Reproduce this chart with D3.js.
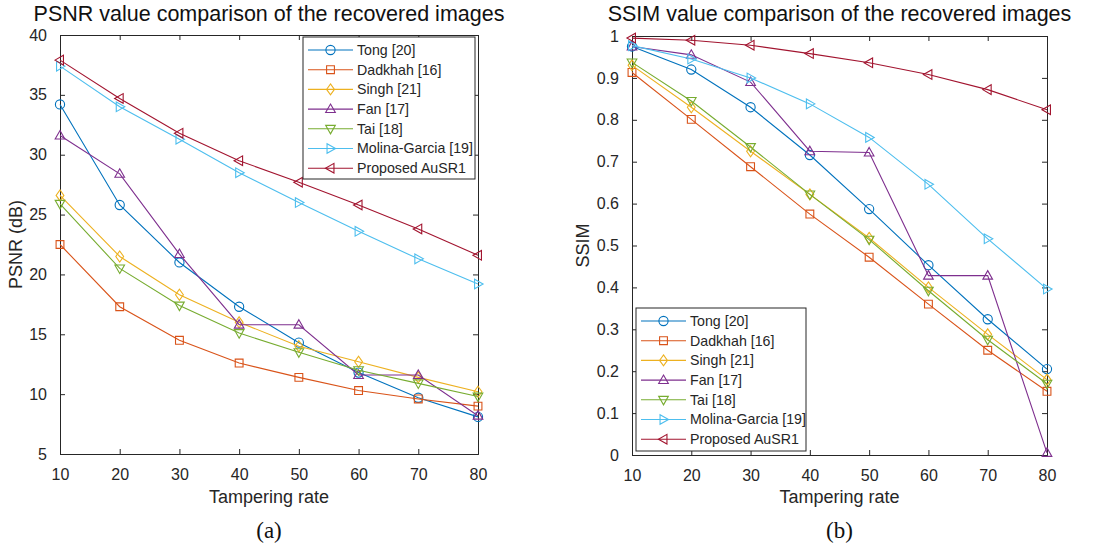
<!DOCTYPE html>
<html><head><meta charset="utf-8">
<script src="https://cdn.jsdelivr.net/npm/d3@7/dist/d3.min.js"></script>
<style>body{margin:0;background:#fff}svg{display:block}</style>
</head><body><svg id="c" width="1100" height="545"></svg>
<script>
const rates = [10,20,30,40,50,60,70,80];
const seriesNames = ["Tong [20]","Dadkhah [16]","Singh [21]","Fan [17]","Tai [18]","Molina-Garcia [19]","Proposed AuSR1"];
const colors = ["#0072BD","#D95319","#EDB120","#7E2F8E","#77AC30","#4DBEEE","#A2142F"];
const markers = ["circle","square","diamond","up","down","right","left"];
const psnrTong     = [34.2,25.8,21.0,17.3,14.3,11.8,9.7,8.1];
const psnrDadkhah  = [22.5,17.3,14.5,12.6,11.4,10.3,9.6,9.0];
const psnrSingh    = [26.6,21.5,18.3,16.0,14.0,12.7,11.4,10.2];
const psnrFan      = [31.6,28.4,21.7,15.8,15.8,11.6,11.6,8.2];
const psnrTai      = [25.9,20.5,17.4,15.1,13.5,12.0,10.9,9.8];
const psnrMolina   = [37.4,34.0,31.3,28.5,26.0,23.6,21.3,19.2];
const psnrProposed = [37.9,34.7,31.8,29.5,27.7,25.8,23.8,21.6];
const ssimTong     = [0.975,0.920,0.830,0.716,0.587,0.453,0.324,0.205];
const ssimDadkhah  = [0.913,0.801,0.688,0.575,0.472,0.360,0.250,0.152];
const ssimSingh    = [0.930,0.830,0.725,0.622,0.518,0.400,0.288,0.180];
const ssimFan      = [0.975,0.955,0.890,0.725,0.722,0.428,0.428,0.005];
const ssimTai      = [0.937,0.845,0.735,0.622,0.514,0.392,0.275,0.170];
const ssimMolina   = [0.977,0.945,0.900,0.838,0.758,0.646,0.516,0.396];
const ssimProposed = [0.995,0.990,0.978,0.958,0.936,0.908,0.872,0.824];
const psnrTicks = [5,10,15,20,25,30,35,40];
const ssimTicks = [0,0.1,0.2,0.3,0.4,0.5,0.6,0.7,0.8,0.9,1];

const psnrData = [psnrTong,psnrDadkhah,psnrSingh,psnrFan,psnrTai,psnrMolina,psnrProposed];
const ssimData = [ssimTong,ssimDadkhah,ssimSingh,ssimFan,ssimTai,ssimMolina,ssimProposed];

const svg = d3.select("#c");
const FONT = "'Liberation Sans', Arial, Helvetica, sans-serif";
const AX = "#262626";

function markerPath(type, r){
  switch(type){
    case "circle": {const p=d3.path();p.moveTo(r,0);p.arc(0,0,r,0,2*Math.PI);return p.toString();}
    case "square": return `M${-r*0.85},${-r*0.85}H${r*0.85}V${r*0.85}H${-r*0.85}Z`;
    case "diamond": return `M0,${-r*1.2}L${r*0.85},0L0,${r*1.2}L${-r*0.85},0Z`;
    case "up": return `M0,${-r*1.1}L${r*1.05},${r*0.75}L${-r*1.05},${r*0.75}Z`;
    case "down": return `M0,${r*1.1}L${r*1.05},${-r*0.75}L${-r*1.05},${-r*0.75}Z`;
    case "right": return `M${r*1.1},0L${-r*0.75},${r*1.05}L${-r*0.75},${-r*1.05}Z`;
    case "left": return `M${-r*1.1},0L${r*0.75},${r*1.05}L${r*0.75},${-r*1.05}Z`;
  }
}

function drawPanel(o){
  const g = svg.append("g");
  const x = d3.scaleLinear().domain([10,80]).range([o.x0,o.x1]);
  const y = d3.scaleLinear().domain(o.ydom).range([o.y0,o.y1]);
  const tl = 5;
  const bottom = d3.axisBottom(x).tickValues(rates).tickSize(-tl).tickPadding(tl+10);
  const top = d3.axisTop(x).tickValues(rates).tickSize(-tl).tickFormat("");
  const left = d3.axisLeft(y).tickValues(o.ticks).tickSize(-tl).tickPadding(tl+8).tickFormat(o.fmt);
  const right = d3.axisRight(y).tickValues(o.ticks).tickSize(-tl).tickFormat("");
  const gb = g.append("g").attr("transform",`translate(0,${o.y0})`).call(bottom);
  const gt = g.append("g").attr("transform",`translate(0,${o.y1})`).call(top);
  const gl = g.append("g").attr("transform",`translate(${o.x0},0)`).call(left);
  const gr = g.append("g").attr("transform",`translate(${o.x1},0)`).call(right);
  [gb,gt,gl,gr].forEach(a=>{
    a.select(".domain").attr("stroke",AX).attr("stroke-width",1);
    a.selectAll(".tick line").attr("stroke",AX).attr("stroke-width",1);
    a.selectAll("text").attr("fill",AX).style("font-family",FONT).style("font-size","16px");
  });
  g.append("text").attr("x",(o.x0+o.x1)/2).attr("y",21).attr("text-anchor","middle")
    .style("font-family",FONT).style("font-size","21.5px").attr("fill","#111").text(o.title);
  g.append("text").attr("x",(o.x0+o.x1)/2).attr("y",503).attr("text-anchor","middle")
    .style("font-family",FONT).style("font-size","18px").attr("fill",AX).text("Tampering rate");
  g.append("text").attr("transform",`translate(${o.ylx},${(o.y0+o.y1)/2}) rotate(-90)`).attr("text-anchor","middle")
    .style("font-family",FONT).style("font-size","18px").attr("fill",AX).text(o.ylabel);
  g.append("text").attr("x",(o.x0+o.x1)/2).attr("y",538).attr("text-anchor","middle")
    .style("font-family","'Liberation Serif','Times New Roman',serif").style("font-size","23px").attr("fill","#111").text(o.sub);
  const line = d3.line().x((d,i)=>x(rates[i])).y(d=>y(d));
  o.data.forEach((s,k)=>{
    g.append("path").datum(s).attr("d",line).attr("fill","none").attr("stroke",colors[k]).attr("stroke-width",1.1);
    g.selectAll(null).data(s).enter().append("path")
      .attr("transform",(d,i)=>`translate(${x(rates[i])},${y(d)})`)
      .attr("d",markerPath(markers[k],4.6)).attr("fill","none").attr("stroke",colors[k]).attr("stroke-width",1.1);
  });
  const L = o.leg;
  const lg = g.append("g");
  lg.append("rect").attr("x",L.x).attr("y",L.y).attr("width",L.w).attr("height",L.h)
    .attr("fill","#fff").attr("stroke",AX).attr("stroke-width",1);
  seriesNames.forEach((n,k)=>{
    const yy = L.y + 13 + k*19.7;
    lg.append("line").attr("x1",L.x+5).attr("x2",L.x+50).attr("y1",yy).attr("y2",yy).attr("stroke",colors[k]).attr("stroke-width",1.1);
    lg.append("path").attr("transform",`translate(${L.x+27.5},${yy})`).attr("d",markerPath(markers[k],4.6))
      .attr("fill","none").attr("stroke",colors[k]).attr("stroke-width",1.1);
    lg.append("text").attr("x",L.x+54).attr("y",yy).attr("dy","0.35em")
      .style("font-family",FONT).style("font-size","14.2px").attr("fill",AX).text(n);
  });
}

drawPanel({x0:60,x1:478,y0:454,y1:35,ydom:[5,40],ticks:psnrTicks,fmt:d3.format("d"),
  title:"PSNR value comparison of the recovered images",ylabel:"PSNR (dB)",ylx:22,sub:"(a)",
  data:psnrData,leg:{x:303,y:37,w:172,h:142}});
drawPanel({x0:632,x1:1047,y0:455,y1:36,ydom:[0,1],ticks:ssimTicks,fmt:d=>d===0?"0":d===1?"1":d3.format(".1f")(d),
  title:"SSIM value comparison of the recovered images",ylabel:"SSIM",ylx:589,sub:"(b)",
  data:ssimData,leg:{x:636,y:308,w:170,h:143}});
</script></body></html>
